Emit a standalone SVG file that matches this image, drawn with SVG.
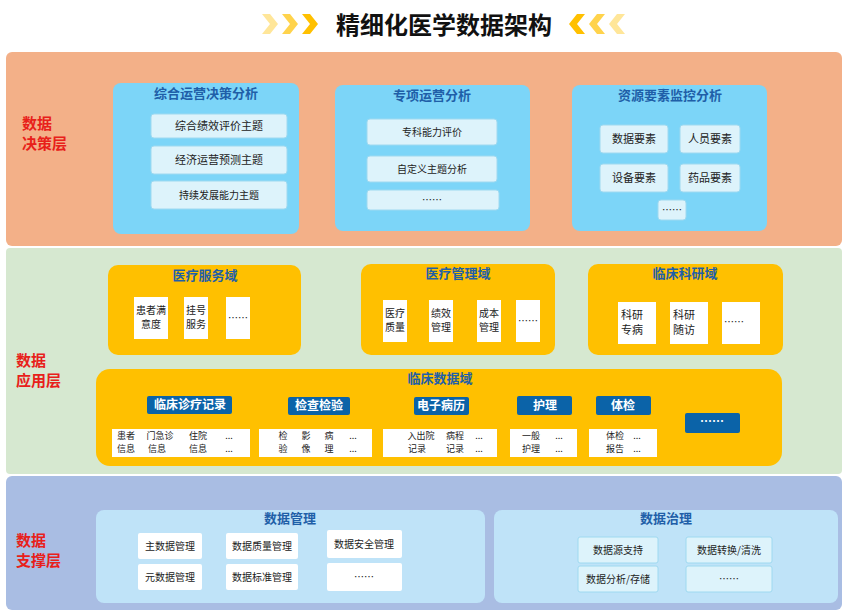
<svg xmlns="http://www.w3.org/2000/svg" width="847" height="614" viewBox="0 0 847 614">
<style>
text{font-family:"Noto Sans CJK SC","Liberation Sans",sans-serif}
.lay{font-size:15px;font-weight:bold;fill:#E8201A}
.ct{font-size:13px;font-weight:bold;fill:#1F5FA8;text-anchor:middle}
.ib{fill:#DDF3FB;stroke:#9ED9F0}
.it{font-size:11px;fill:#222;text-anchor:middle}
.st{font-size:10px;fill:#222;text-anchor:middle}
.sm{font-size:9px;fill:#222;text-anchor:middle}
.y{fill:#FFC000}
.w{fill:#fff}
.bt{fill:#0B63A8}
.btt{font-size:12px;font-weight:bold;fill:#fff;text-anchor:middle}
.cyan{fill:#7CD5F8}
.lb{fill:#BFE3F8}
</style>
<rect width="847" height="614" fill="#fff"/>
<g id="title">
<g fill="#FFC000"><path d="M262 14l8 0 8 10 -8 10 -8 0 8 -10z" opacity="0.4"/><path d="M282 14l8 0 8 10 -8 10 -8 0 8 -10z" opacity="0.7"/><path d="M302 14l8 0 8 10 -8 10 -8 0 8 -10z"/>
<path d="M585 14l-8 0 -8 10 8 10 8 0 -8 -10z"/><path d="M605 14l-8 0 -8 10 8 10 8 0 -8 -10z" opacity="0.7"/><path d="M625 14l-8 0 -8 10 8 10 8 0 -8 -10z" opacity="0.4"/></g>
<text x="444" y="34" font-size="24" font-weight="bold" text-anchor="middle" fill="#111">精细化医学数据架构</text>
</g>
<g id="layer-decision">
<rect x="6" y="52" width="836" height="194" rx="6" fill="#F3B088"/>
<text class="lay" x="22" y="129">数据</text><text class="lay" x="22" y="149">决策层</text>
</g>
<g id="layer-application">
<rect x="6" y="248" width="836" height="226" rx="4" fill="#D6E8D0"/>
<text class="lay" x="16" y="366">数据</text><text class="lay" x="16" y="386">应用层</text>
</g>
<g id="layer-support">
<rect x="6" y="476" width="836" height="134" rx="6" fill="#A9BDE3"/>
<text class="lay" x="16" y="546">数据</text><text class="lay" x="16" y="566">支撑层</text>
</g>
<g id="card-zonghe">
<rect class="cyan" x="113" y="83" width="186" height="151" rx="8"/>
<text class="ct" x="206" y="98">综合运营决策分析</text>
<rect class="ib" x="151" y="114" width="136" height="24" rx="3"/><text class="it" x="219" y="130">综合绩效评价主题</text>
<rect class="ib" x="151" y="146" width="136" height="28" rx="3"/><text class="it" x="219" y="164">经济运营预测主题</text>
<rect class="ib" x="151" y="181" width="136" height="28" rx="3"/><text class="st" x="219" y="199">持续发展能力主题</text>
</g>
<g id="card-zhuanxiang">
<rect class="cyan" x="335" y="85" width="195" height="146" rx="8"/>
<text class="ct" x="432" y="100">专项运营分析</text>
<rect class="ib" x="367" y="119" width="130" height="26" rx="3"/><text class="st" x="432" y="136">专科能力评价</text>
<rect class="ib" x="367" y="156" width="130" height="26" rx="3"/><text class="st" x="432" y="173">自定义主题分析</text>
<rect class="ib" x="367" y="190" width="132" height="20" rx="3"/><text class="st" x="432" y="204">……</text>
</g>
<g id="card-ziyuan">
<rect class="cyan" x="572" y="85" width="195" height="146" rx="8"/>
<text class="ct" x="670" y="100">资源要素监控分析</text>
<rect class="ib" x="600" y="125" width="68" height="28" rx="3"/><text class="it" x="634" y="143">数据要素</text>
<rect class="ib" x="680" y="125" width="60" height="28" rx="3"/><text class="it" x="710" y="143">人员要素</text>
<rect class="ib" x="600" y="164" width="68" height="28" rx="3"/><text class="it" x="634" y="182">设备要素</text>
<rect class="ib" x="680" y="164" width="60" height="28" rx="3"/><text class="it" x="710" y="182">药品要素</text>
<rect class="ib" x="658" y="200" width="28" height="20" rx="3"/><text class="st" x="672" y="214">……</text>
</g>
<g id="domain-service">
<rect class="y" x="108" y="265" width="193" height="90" rx="10"/>
<text class="ct" x="205" y="280">医疗服务域</text>
<rect class="w" x="134" y="297" width="34" height="42"/><text class="st" x="151" y="314">患者满</text><text class="st" x="151" y="328">意度</text>
<rect class="w" x="184" y="297" width="24" height="42"/><text class="st" x="196" y="314">挂号</text><text class="st" x="196" y="328">服务</text>
<rect class="w" x="226" y="297" width="24" height="42"/><text class="st" x="238" y="322">……</text>
</g>
<g id="domain-management">
<rect class="y" x="361" y="264" width="194" height="91" rx="10"/>
<text class="ct" x="458" y="278">医疗管理域</text>
<rect class="w" x="383" y="300" width="24" height="42"/><text class="st" x="395" y="317">医疗</text><text class="st" x="395" y="331">质量</text>
<rect class="w" x="429" y="300" width="24" height="42"/><text class="st" x="441" y="317">绩效</text><text class="st" x="441" y="331">管理</text>
<rect class="w" x="477" y="300" width="24" height="42"/><text class="st" x="489" y="317">成本</text><text class="st" x="489" y="331">管理</text>
<rect class="w" x="516" y="300" width="24" height="42"/><text class="st" x="528" y="325">……</text>
</g>
<g id="domain-research">
<rect class="y" x="588" y="264" width="195" height="91" rx="10"/>
<text class="ct" x="685" y="278">临床科研域</text>
<rect class="w" x="618" y="302" width="38" height="42"/><text class="it" x="632" y="319">科研</text><text class="it" x="632" y="334">专病</text>
<rect class="w" x="670" y="302" width="38" height="42"/><text class="it" x="684" y="319">科研</text><text class="it" x="684" y="334">随访</text>
<rect class="w" x="722" y="302" width="38" height="42"/><text class="st" x="734" y="326">……</text>
</g>
<g id="domain-clinical-data">
<rect class="y" x="96" y="369" width="686" height="97" rx="14"/>
<text class="ct" x="440" y="383">临床数据域</text>
<rect class="bt" x="147" y="396" width="85" height="18" rx="2"/><text class="btt" x="190" y="409">临床诊疗记录</text>
<rect class="bt" x="288" y="397" width="62" height="18" rx="2"/><text class="btt" x="319" y="410">检查检验</text>
<rect class="bt" x="414" y="397" width="55" height="18" rx="2"/><text class="btt" x="441" y="410">电子病历</text>
<rect class="bt" x="517" y="396" width="55" height="19" rx="2"/><text class="btt" x="545" y="410">护理</text>
<rect class="bt" x="596" y="396" width="55" height="19" rx="2"/><text class="btt" x="623" y="410">体检</text>
<rect class="bt" x="685" y="413" width="55" height="20" rx="2"/><text class="btt" x="712" y="426">……</text>
<rect class="w" x="112" y="429" width="138" height="28"/>
<text class="sm" x="126" y="439">患者</text><text class="sm" x="126" y="452">信息</text>
<text class="sm" x="160" y="439">门急诊</text><text class="sm" x="157" y="452">信息</text>
<text class="sm" x="198" y="439">住院</text><text class="sm" x="198" y="452">信息</text>
<text class="sm" x="229" y="439">...</text><text class="sm" x="229" y="452">...</text>
<rect class="w" x="259" y="429" width="113" height="28"/>
<text class="sm" x="283" y="439">检</text><text class="sm" x="283" y="452">验</text>
<text class="sm" x="306" y="439">影</text><text class="sm" x="306" y="452">像</text>
<text class="sm" x="329" y="439">病</text><text class="sm" x="329" y="452">理</text>
<text class="sm" x="353" y="439">...</text><text class="sm" x="353" y="452">...</text>
<rect class="w" x="383" y="429" width="114" height="28"/>
<text class="sm" x="421" y="439">入出院</text><text class="sm" x="417" y="452">记录</text>
<text class="sm" x="455" y="439">病程</text><text class="sm" x="455" y="452">记录</text>
<text class="sm" x="479" y="439">...</text><text class="sm" x="479" y="452">...</text>
<rect class="w" x="510" y="429" width="67" height="28"/>
<text class="sm" x="531" y="439">一般</text><text class="sm" x="531" y="452">护理</text>
<text class="sm" x="559" y="439">...</text><text class="sm" x="559" y="452">...</text>
<rect class="w" x="589" y="429" width="68" height="28"/>
<text class="sm" x="615" y="439">体检</text><text class="sm" x="615" y="452">报告</text>
<text class="sm" x="637" y="439">...</text><text class="sm" x="637" y="452">...</text>
</g>
<g id="data-management">
<rect class="lb" x="96" y="510" width="389" height="93" rx="8"/>
<text class="ct" x="290" y="523">数据管理</text>
<rect class="w" x="138" y="533" width="64" height="26" rx="2"/><text class="st" x="170" y="550">主数据管理</text>
<rect class="w" x="226" y="533" width="72" height="26" rx="2"/><text class="st" x="262" y="550">数据质量管理</text>
<rect class="w" x="327" y="530" width="75" height="28" rx="2"/><text class="st" x="364" y="548">数据安全管理</text>
<rect class="w" x="138" y="564" width="64" height="26" rx="2"/><text class="st" x="170" y="581">元数据管理</text>
<rect class="w" x="226" y="564" width="72" height="26" rx="2"/><text class="st" x="262" y="581">数据标准管理</text>
<rect class="w" x="327" y="563" width="75" height="28" rx="2"/><text class="st" x="364" y="581">……</text>
</g>
<g id="data-governance">
<rect class="lb" x="494" y="510" width="344" height="93" rx="8"/>
<text class="ct" x="666" y="523">数据治理</text>
<rect class="ib" x="578" y="537" width="80" height="26" rx="2"/><text class="st" x="618" y="554">数据源支持</text>
<rect class="ib" x="686" y="537" width="86" height="26" rx="2"/><text class="st" x="729" y="554">数据转换/清洗</text>
<rect class="ib" x="578" y="566" width="80" height="26" rx="2"/><text class="st" x="618" y="583">数据分析/存储</text>
<rect class="ib" x="686" y="566" width="86" height="26" rx="2"/><text class="st" x="729" y="583">……</text>
</g>
<g id="connectors"></g>
</svg>
